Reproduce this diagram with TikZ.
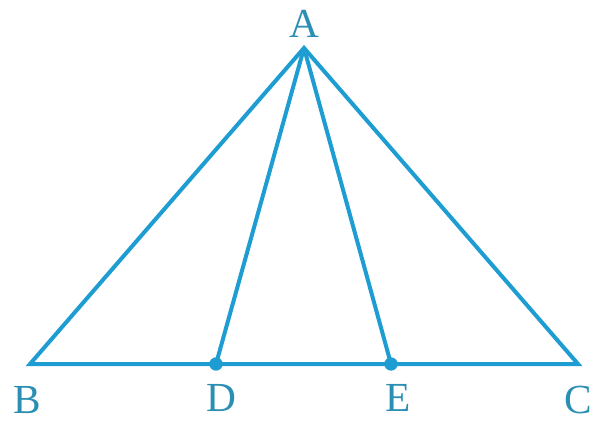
\documentclass[tikz,border=0pt]{standalone}
\usepackage{fontspec}
\setmainfont{Liberation Serif}
\usepackage{tikz}
\usetikzlibrary{positioning,calc}
\definecolor{edge}{HTML}{1E9DD2}
\definecolor{lbl}{HTML}{2A8FB2}

\begin{document}
\begin{tikzpicture}[x=0.75pt,y=-0.75pt,
  lab/.style={text=lbl,font=\fontsize{31}{33}\selectfont,inner sep=0pt},
  side/.style={draw=edge,line width=3pt,line join=miter},
  dot/.style={circle,fill=edge,inner sep=0pt,minimum size=10pt}]
\useasboundingbox (0,0) rectangle (598,421);
\coordinate (A) at (304,48);
\coordinate (B) at (30,364);
\coordinate (C) at (578,364);
\coordinate (D) at (216,364);
\coordinate (E) at (391,364);
\draw[side] (B)--(A)--(C)--cycle;
\draw[side] (A)--(D); \draw[side] (A)--(E);
\node[dot] (dD) at (D) {}; \node[dot] (dE) at (E) {};
\node[lab] (lA) at (304,24) {A};
\node[lab] (lB) at (27,400) {B};
\node[lab] (lD) at (221,398) {D};
\node[lab] (lE) at (398,398) {E};
\node[lab] (lC) at (578,400) {C};
\end{tikzpicture}
\end{document}
